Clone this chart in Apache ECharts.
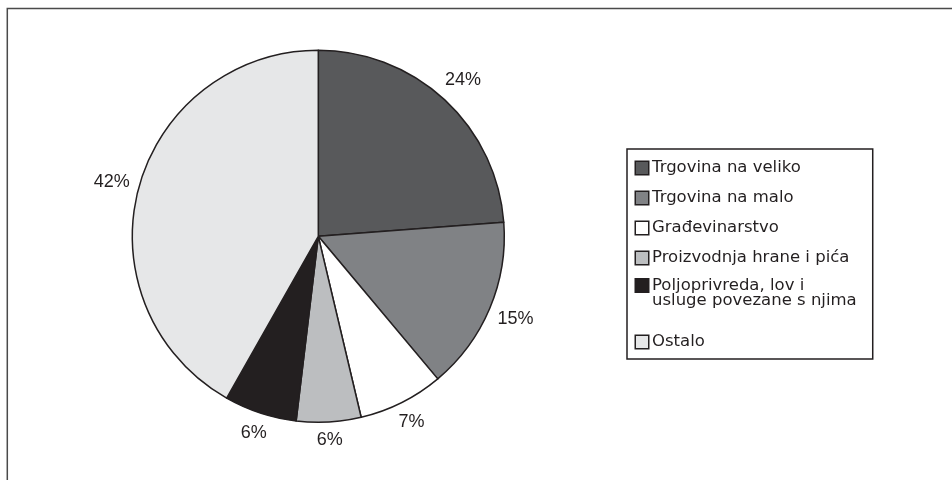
<!DOCTYPE html>
<html>
<head>
<meta charset="utf-8">
<title>Struktura po djelatnostima</title>
<script src="https://cdn.jsdelivr.net/npm/echarts@6/dist/echarts.min.js"></script>
<style>
    html, body { margin: 0; padding: 0; background: #fff; }
    #chart { width: 952px; height: 480px; }
</style>
</head>
<body>
<div id="chart"></div>
<script>
// podaci
var sectorNames = ['Trgovina na veliko', 'Trgovina na malo', 'Građevinarstvo', 'Proizvodnja hrane i pića', 'Poljoprivreda, lov i\nusluge povezane s njima', 'Ostalo'];
var sectorShares = [23.8, 15.1, 7.4, 5.6, 6.3, 41.8];
var sectorColors = ['#58595b', '#808285', '#ffffff', '#bcbec0', '#231f20', '#e6e7e8'];

var pieCenter = [318.3, 236.3];
var pieRadius = 186;
var labelEdge = 194;   // rub teksta postotka od sredista
var inkColor = '#231f20';
var clear = 'rgba(0,0,0,0)';

var myChart = echarts.init(document.getElementById('chart'));

var pieData = [];
for (var i = 0; i < sectorNames.length; i++) {
    pieData.push({ name: sectorNames[i], value: sectorShares[i] });
}

// kvadratici u legendi kao rich text, da stoje uz prvi red teksta
// (prozirna pozadina daje visinu retka za raspored legende)
var legendRich = {
    t:  { lineHeight: 22, height: 22, backgroundColor: clear, padding: [0, 0, 0, 4] },
    ta: { lineHeight: 16, height: 16, backgroundColor: clear, padding: [0, 0, 0, 4] },
    tb: { lineHeight: 15, height: 15, backgroundColor: clear, padding: [0, 0, 0, 16] },
    sp: { lineHeight: 13.5, height: 13.5, backgroundColor: clear, fontSize: 2 }
};
sectorColors.forEach(function (c, idx) {
    legendRich['b' + idx] = {
        width: 12, height: 12, lineHeight: 12,
        backgroundColor: c, borderColor: inkColor, borderWidth: 1.5
    };
});

function legendText(name) {
    var idx = sectorNames.indexOf(name);
    var lines = name.split('\n');
    if (lines.length > 1) {
        return '{b' + idx + '|}{ta|' + lines[0] + '}\n{tb|' + lines[1] + '}';
    }
    var s = '{b' + idx + '|}{t|' + name + '}';
    if (idx > 0 && sectorNames[idx - 1].indexOf('\n') >= 0) {
        s = '{sp| }\n' + s;
    }
    return s;
}

// postotak izvan kruga, centriran na smjeru sredine isjecka
function outerLabel(params) {
    var r = params.labelRect;
    var lx = r.x + r.width / 2, ly = r.y + r.height / 2;
    var dx = lx - pieCenter[0], dy = ly - pieCenter[1];
    var len = Math.sqrt(dx * dx + dy * dy) || 1;
    var ux = dx / len, uy = dy / len;
    var d = labelEdge + Math.abs(ux) * r.width / 2 + Math.abs(uy) * r.height / 2;
    return {
        x: pieCenter[0] + ux * d,
        y: pieCenter[1] + uy * d,
        align: 'center',
        verticalAlign: 'middle'
    };
}

var option = {
    animation: false,
    color: sectorColors,
    graphic: [{
        type: 'rect',
        silent: true,
        shape: { x: 7.3, y: 8.5, width: 2000, height: 2000 },
        style: { fill: null, stroke: '#4a4a4a', lineWidth: 1.5 }
    }],
    legend: {
        orient: 'vertical',
        left: 627,
        top: 149,
        padding: [8, 16, 6, 4],
        itemGap: 8,
        itemWidth: 0,
        itemHeight: 12,
        selectedMode: false,
        borderColor: inkColor,
        borderWidth: 1.5,
        itemStyle: { color: 'transparent', borderColor: 'transparent', borderWidth: 0, opacity: 0 },
        data: sectorNames,
        formatter: legendText,
        textStyle: {
            fontFamily: 'DejaVu Sans',
            fontSize: 16.5,
            color: inkColor,
            rich: legendRich
        }
    },
    series: [
        {
            type: 'pie',
            radius: [0, pieRadius],
            center: pieCenter,
            startAngle: 90,
            clockwise: true,
            silent: true,
            percentPrecision: 0,
            data: pieData,
            label: {
                show: true,
                position: 'inside',
                formatter: '{d}%',
                fontFamily: 'Liberation Sans',
                fontSize: 18,
                color: inkColor
            },
            labelLine: { show: false },
            labelLayout: outerLabel,
            itemStyle: { borderColor: inkColor, borderWidth: 1.5 },
            emphasis: { disabled: true }
        }
    ]
};

myChart.setOption(option);
</script>
</body>
</html>
